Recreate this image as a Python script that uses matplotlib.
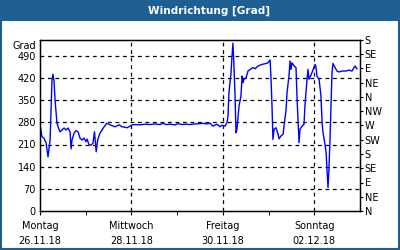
import matplotlib
matplotlib.use("Agg")
import matplotlib.pyplot as plt
from matplotlib.patches import Rectangle

# hours since Mo 26.11.18 00:00, wind direction in degrees (unwrapped)
hours = [0.0, 1.0, 2.1, 3.2, 4.2, 5.3, 5.8, 6.3, 6.8, 7.4, 7.9, 8.9, 9.5, 10.5,
         11.6, 12.6, 13.7, 14.7, 15.8, 16.3, 16.8, 17.9, 18.9, 20.0, 21.0, 22.1,
         23.1, 24.2, 24.7, 25.7, 26.8, 27.8, 28.6, 29.5, 30.3, 31.5, 33.1, 35.0,
         36.8, 39.4, 41.5, 43.1, 45.8, 48.4, 49.9, 52.5, 55.1, 57.8, 60.4, 63.0,
         64.6, 66.2, 68.3, 70.9, 72.5, 74.6, 76.7, 78.8, 81.4, 84.0, 85.6, 87.2,
         89.3, 90.8, 92.9, 94.5, 95.6, 97.1, 98.2, 98.7, 99.2, 100.3, 100.8, 101.3,
         101.9, 102.4, 102.9, 103.4, 104.5, 105.5, 106.1, 106.6, 107.1, 108.2,
         109.2, 110.3, 111.8, 112.9, 114.5, 116.6, 118.7, 119.7, 120.8, 121.3,
         121.8, 122.3, 122.9, 123.9, 125.0, 125.5, 126.5, 127.6, 128.1, 129.2,
         129.7, 130.7, 131.3, 131.8, 132.3, 133.4, 134.4, 134.9, 135.5, 136.0,
         136.5, 137.6, 138.6, 139.1, 140.2, 140.7, 141.2, 142.3, 143.3, 144.4,
         144.9, 145.4, 146.5, 147.5, 148.1, 148.6, 149.6, 150.2, 150.7, 151.2,
         151.7, 152.3, 152.8, 153.3, 153.8, 154.9, 155.9, 157.0, 158.6, 160.7,
         162.2, 163.8, 165.4, 166.4]
grad = [275, 235, 230, 215, 171, 224, 319, 414, 432, 408, 350, 278, 266, 250,
        256, 262, 256, 262, 250, 196, 224, 246, 254, 250, 230, 224,
        230, 219, 227, 210, 208, 214, 250, 187, 225, 246, 261, 277,
        272, 266, 272, 266, 263, 272, 273, 272, 274, 273, 275, 273,
        277, 273, 274, 272, 276, 273, 274, 273, 275, 276, 277, 275,
        277, 268, 274, 266, 271, 268, 279, 300, 374, 437, 489, 530,
        447, 363, 247, 258, 332, 363, 426, 405, 416, 421,
        442, 447, 453, 449, 458, 463, 466, 468, 477, 416,
        332, 226, 258, 263, 242, 228, 237, 242, 268, 321,
        374, 426, 474, 447, 468, 458, 453, 363, 279, 216,
        258, 268, 274, 332, 416, 447, 416, 430, 445, 463,
        455, 426, 416, 363, 279, 247, 211, 184, 132, 74,
        132, 237, 342, 437, 466, 453, 442, 439, 442, 442,
        445, 442, 458, 449]

left_ticks = [0, 70, 140, 210, 280, 350, 420, 490]
right_ticks = list(range(0, 541, 45))
right_labels = ["N", "NE", "E", "SE", "S", "SW", "W", "NW", "N", "NE", "E", "SE", "S"]
day_ticks = [0, 48, 96, 144]
day_labels = ["Montag\n26.11.18", "Mittwoch\n28.11.18", "Freitag\n30.11.18", "Sonntag\n02.12.18"]
minor_days = [24, 72, 120]

plt.rcParams['font.family'] = 'DejaVu Sans'
fs = 7.0

fig = plt.figure(figsize=(4, 2.5), dpi=100)
fig.patch.set_facecolor('white')

# title band + outer frame
band = '#1d5e93'
fig.patches.append(Rectangle((0, 0.918), 1, 0.082, transform=fig.transFigure,
                             facecolor=band, edgecolor='none', zorder=0))
fig.patches.append(Rectangle((0.002, 0.003), 0.996, 0.994, transform=fig.transFigure,
                             facecolor='none', edgecolor=band, linewidth=1.5, zorder=5))
fig.text(0.523, 0.958, 'Windrichtung [Grad]', color='white', fontweight='bold',
         fontsize=7.6, ha='center', va='center')

ax = fig.add_axes([0.1, 0.156, 0.8, 0.684])
ax.plot(hours, grad, color='#0000ff', linewidth=1.0, zorder=3)
ax.set_xlim(0, 168)
ax.set_ylim(0, 540)

ax.set_yticks(left_ticks)
ax.set_yticklabels([str(v) for v in left_ticks], fontsize=fs)
ax.tick_params(axis='y', length=0, pad=3)
ax.set_xticks(day_ticks)
ax.set_xticklabels(day_labels, fontsize=fs, linespacing=1.65)
ax.set_xticks(minor_days, minor=True)
ax.tick_params(axis='x', which='both', length=3, direction='out', pad=4)

for v in left_ticks[1:]:
    ax.axhline(v, color='black', linewidth=0.9, linestyle=(0, (3, 3)), zorder=1)
for d in day_ticks[1:]:
    ax.axvline(d, color='black', linewidth=0.9, linestyle=(0, (3, 3)), zorder=1)

for s in ax.spines.values():
    s.set_linewidth(1.0)
    s.set_color('black')

ax2 = ax.twinx()
ax2.set_ylim(0, 540)
ax2.set_yticks(right_ticks)
ax2.set_yticklabels(right_labels, fontsize=fs)
ax2.tick_params(axis='y', length=2.5, pad=1)

fig.text(0.09, 1 - 46 / 250, 'Grad', fontsize=fs, ha='right', va='center')

plt.savefig('out.png', dpi=100)
